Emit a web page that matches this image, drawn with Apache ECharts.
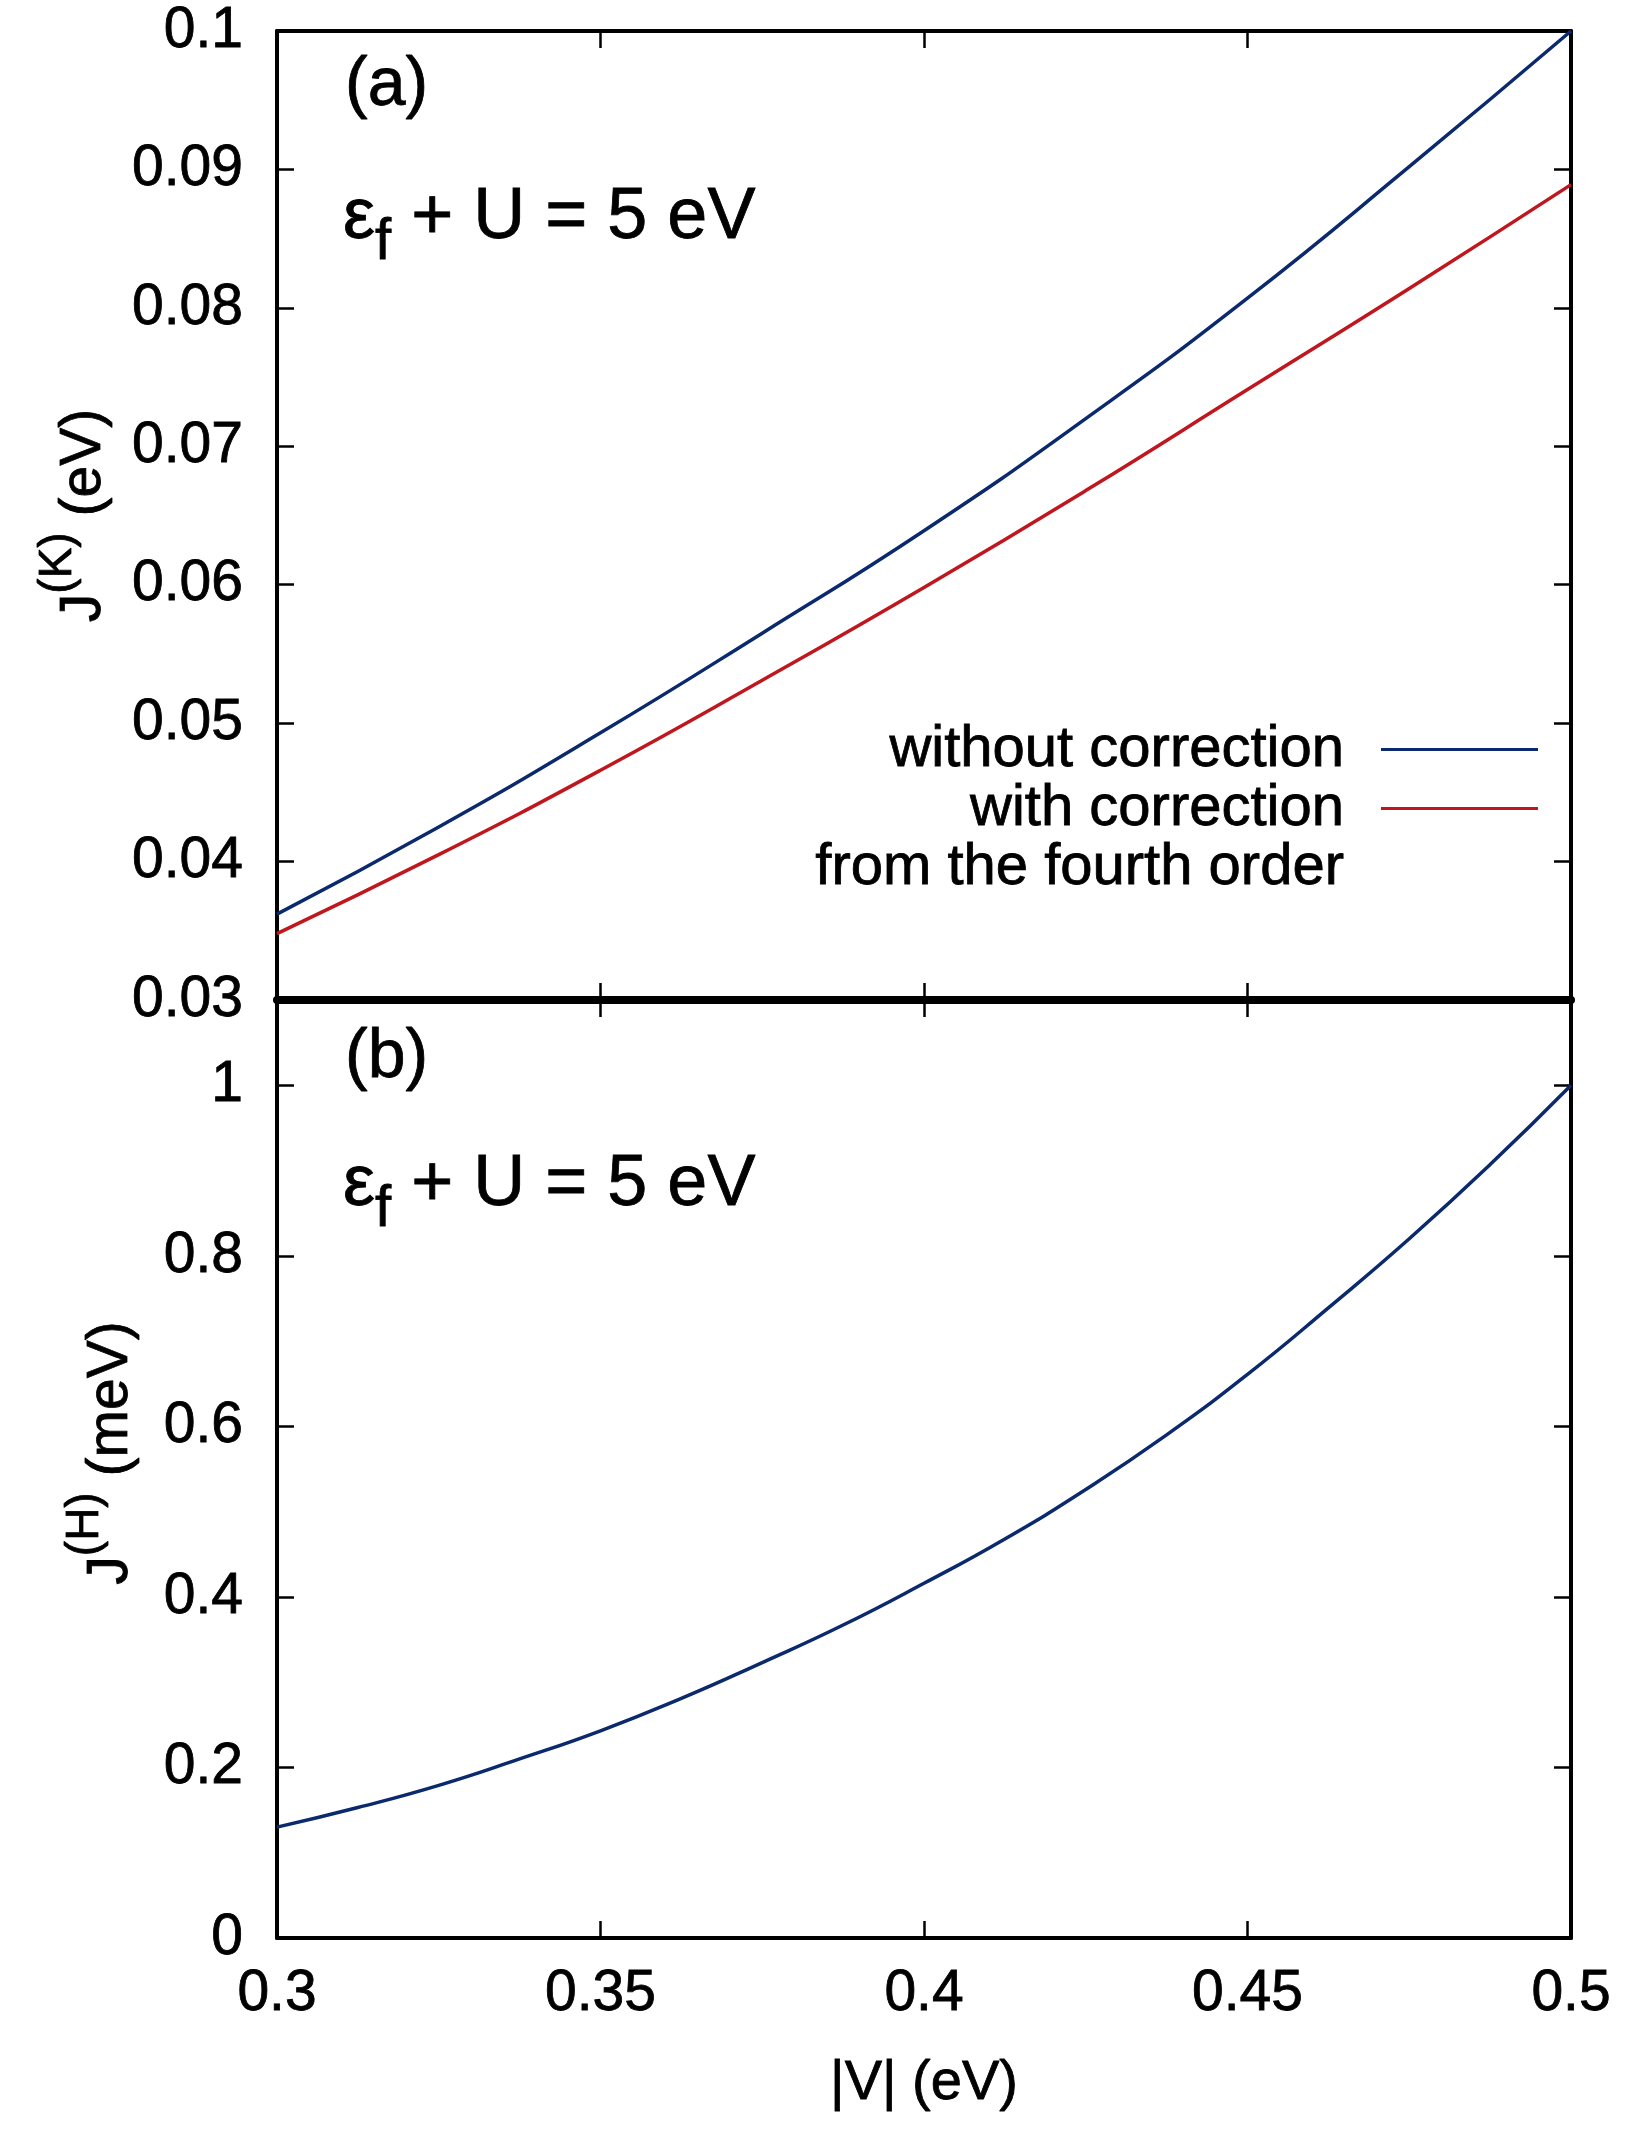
<!DOCTYPE html>
<html>
<head>
<meta charset="utf-8">
<script src="https://cdn.jsdelivr.net/npm/echarts@6/dist/echarts.min.js"></script>
<style>
  html, body { margin: 0; padding: 0; background: #fff; }
  #chart { width: 1638px; height: 2136px; }
</style>
</head>
<body>
<div id="chart"></div>
<script>
// |V| (eV) sample points for panel (a)
const vA = [0.3, 0.325, 0.35, 0.375, 0.4, 0.425, 0.45, 0.475, 0.5]
// J(K) in eV, panel (a)
const jkWithout = [0.0362, 0.0425, 0.0493, 0.0565, 0.0639, 0.0720, 0.0807, 0.0902, 0.1]
const jkWith = [0.0348, 0.0405, 0.0466, 0.0531, 0.0598, 0.0668, 0.0741, 0.0814, 0.0889]

// |V| (eV) sample points for panel (b)
const vB = [0.3, 0.3125, 0.325, 0.3375, 0.35, 0.3625, 0.375, 0.3875, 0.4,
            0.4125, 0.425, 0.4375, 0.45, 0.4625, 0.475, 0.4875, 0.5]
// J(H) in meV, panel (b)
const jh = [0.13, 0.153, 0.179, 0.210, 0.243, 0.281, 0.323, 0.367, 0.416,
            0.468, 0.526, 0.590, 0.661, 0.739, 0.820, 0.907, 1.0]

const FONT = "'Liberation Sans', Arial, Helvetica, sans-serif"
const BLUE = '#0b2a6e'
const RED = '#c0161d'
const INK = { color: '#000', textBorderColor: '#000', textBorderWidth: 0.8 }

const pairs = (xs, ys) => xs.map((x, i) => [x, ys[i]])

const chart = echarts.init(document.getElementById('chart'), null, {
    width: 1638,
    height: 2136
})

const tickIn = { show: true, inside: true, length: 17, lineStyle: { color: '#000', width: 2.5 } }
const labelStyle = Object.assign({ fontSize: 57, fontFamily: FONT }, INK)

function xAx(grid, pos, showLabel, name, lineW){
    return {
        type: 'value', gridIndex: grid, position: pos,
        min: 0.3, max: 0.5, interval: 0.05,
        axisLine: { show: true, onZero: false, lineStyle: { color: '#000', width: lineW || 4 } },
        axisTick: tickIn, splitLine: { show: false },
        axisLabel: Object.assign({ show: showLabel, margin: 28 }, labelStyle),
        name: name || '', nameLocation: 'middle', nameGap: 118,
        nameTextStyle: Object.assign({ fontSize: 56, fontFamily: FONT }, INK)
    }
}

function yAx(grid, pos, min, max, interval, showLabel, rich, gap, lead){
    return {
        type: 'value', gridIndex: grid, position: pos,
        min: min, max: max, interval: interval,
        axisLine: { show: true, onZero: false, lineStyle: { color: '#000', width: 4 } },
        axisTick: tickIn, splitLine: { show: false },
        axisLabel: Object.assign({ show: showLabel, margin: 34, showMaxLabel: grid === 0 }, labelStyle),
        name: rich || '', nameLocation: 'middle', nameRotate: 90, nameGap: gap || 0,
        nameTextStyle: {
            color: '#000', fontFamily: FONT,
            rich: {
                j: Object.assign({ fontSize: 57, fontFamily: FONT, padding: [52, 0, 0, lead || 0] }, INK),
                m: Object.assign({ fontSize: 57, fontFamily: FONT, padding: [52, 0, 0, 0] }, INK),
                s: Object.assign({ fontSize: 46, fontFamily: FONT }, INK)
            }
        }
    }
}

function eqText(y){
    return {
        type: 'text', x: 343, y: y, z: 10,
        style: {
            text: '{m|ε}{s|f}{m| + U = 5 eV}',
            verticalAlign: 'middle', align: 'left',
            rich: {
                m: { fontSize: 72, fontFamily: FONT, fill: '#000', stroke: '#000', lineWidth: 0.8 },
                s: { fontSize: 58, fontFamily: FONT, fill: '#000', stroke: '#000', lineWidth: 0.8, padding: [50, 0, 0, 0] }
            }
        }
    }
}

function panelLabel(text, y){
    return {
        type: 'text', x: 345, y: y,
        style: { text: text, fontSize: 68, fontFamily: FONT, fill: '#000', stroke: '#000', lineWidth: 0.8, verticalAlign: 'middle' }
    }
}

const legendText = Object.assign({ fontSize: 58, fontFamily: FONT, lineHeight: 59, padding: [0, 32, 0, 0] }, INK)

let option = {
    animation: false,
    backgroundColor: '#fff',
    grid: [
        { left: 277, top: 31, width: 1294, height: 969 },
        { left: 277, top: 1000, width: 1294, height: 938 }
    ],
    xAxis: [
        xAx(0, 'bottom', false),
        xAx(0, 'top', false),
        xAx(1, 'bottom', true, '|V| (eV)'),
        xAx(1, 'top', false, '', 8)
    ],
    yAxis: [
        yAx(0, 'left', 0.03, 0.1, 0.01, true, '{j|J}{s|(K)}{m| (eV)}', 164),
        yAx(0, 'right', 0.03, 0.1, 0.01, false),
        yAx(1, 'left', 0, 1.1, 0.2, true, '{j|J}{s|(H)}{m| (meV)}', 137, 32),
        yAx(1, 'right', 0, 1.1, 0.2, false)
    ],
    legend: [
        {
            data: ['without correction'],
            orient: 'vertical', align: 'right', right: 100, top: 720,
            padding: 0, icon: 'rect', itemWidth: 157, itemHeight: 3,
            selectedMode: false,
            textStyle: legendText
        },
        {
            data: ['with correction'],
            orient: 'vertical', align: 'right', right: 100, top: 720,
            padding: 0, icon: 'rect', itemWidth: 157, itemHeight: 3,
            selectedMode: false,
            formatter: () => ' \nwith correction\nfrom the fourth order',
            textStyle: legendText
        }
    ],
    graphic: [
        panelLabel('(a)', 86),
        panelLabel('(b)', 1058),
        eqText(218),
        eqText(1185)
    ],
    series: [
        {
            name: 'without correction', type: 'line', xAxisIndex: 0, yAxisIndex: 0,
            data: pairs(vA, jkWithout), smooth: true, symbol: 'none',
            lineStyle: { color: BLUE, width: 3.5 }, itemStyle: { color: BLUE }
        },
        {
            name: 'with correction', type: 'line', xAxisIndex: 0, yAxisIndex: 0,
            data: pairs(vA, jkWith), smooth: true, symbol: 'none',
            lineStyle: { color: RED, width: 3.5 }, itemStyle: { color: RED }
        },
        {
            name: 'J(H)', type: 'line', xAxisIndex: 2, yAxisIndex: 2,
            data: pairs(vB, jh), smooth: true, symbol: 'none',
            lineStyle: { color: BLUE, width: 3.5 }, itemStyle: { color: BLUE }
        }
    ]
}

chart.setOption(option)
</script>
</body>
</html>
